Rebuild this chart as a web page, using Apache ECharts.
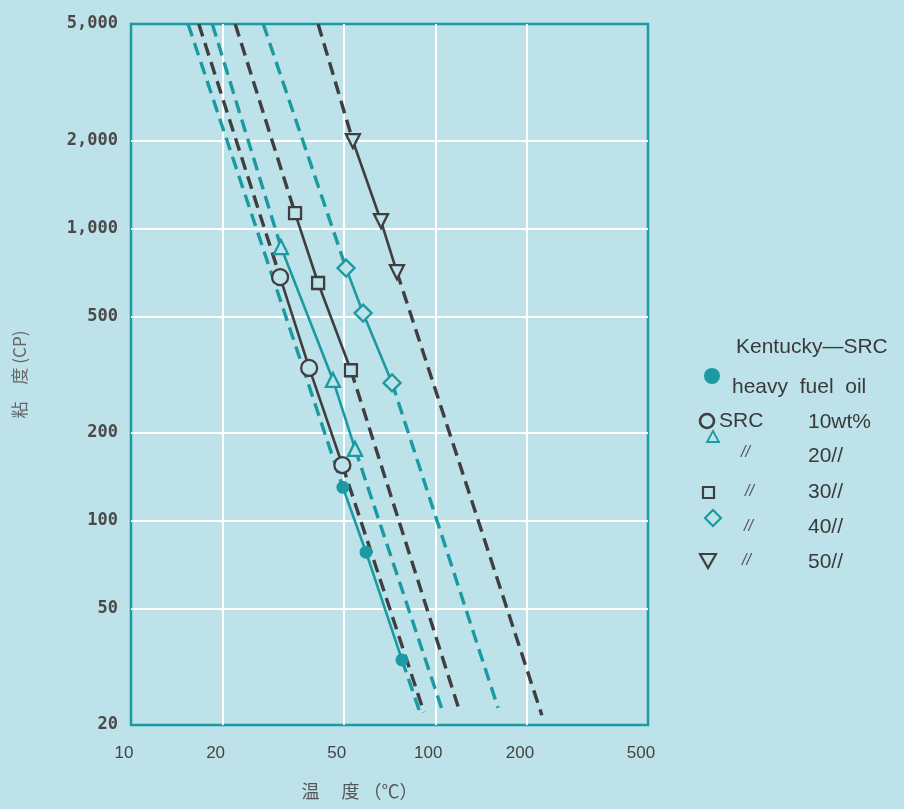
<!DOCTYPE html>
<html>
<head>
<meta charset="utf-8">
<script src="https://cdn.jsdelivr.net/npm/echarts@6/dist/echarts.min.js"></script>
<style>
html,body{margin:0;padding:0;background:#bde2e9;}
#c{width:904px;height:809px;}
</style>
</head>
<body>
<div id="c"></div>
<script>
// ---- data (temperature °C, viscosity cP) ----
const xTicks = [10, 20, 50, 100, 200, 500];
const xGrid = [20, 50, 100, 200];
const yTicks = [20, 50, 100, 200, 500, 1000, 2000, 5000];
const yGrid = [50, 100, 200, 500, 1000, 2000];

const hfoT = [49.7, 59.2, 77.7];
const hfoV = [130, 78, 33.4];
const src10T = [30.9, 38.5, 49.5];
const src10V = [681, 333, 155];
const src20T = [31.1, 46.1, 54.5];
const src20V = [863, 303, 176];
const src30T = [34.6, 41.2, 52.8];
const src30V = [1128, 650, 327];
const src40T = [50.9, 57.9, 72.1];
const src40V = [731, 513, 296];
const src50T = [53.6, 66.3, 74.8];
const src50V = [1989, 1059, 708];

// extrapolated (dashed) ends: [temp, viscosity]
const hfoTop = [15.4, 5000], hfoBottom = [89.0, 22.1];
const src10Top = [16.7, 5000], src10Bottom = [91.8, 22.1];
const src20Top = [18.5, 5000], src20Bottom = [106, 22.1];
const src30Top = [22.0, 5000], src30Bottom = [120.5, 22.1];
const src40Top = [27.2, 5000], src40Bottom = [160.7, 22.9];
const src50Top = [41.2, 5000], src50Bottom = [224, 21.6];

// ---- styling ----
const BG = '#bde2e9';
const TEAL = '#1b9aa2';
const DARK = '#3f3f3f';

const groups = [
  {name:'heavy fuel oil', T:hfoT, V:hfoV, top:hfoTop, bottom:hfoBottom, color:TEAL, symbol:'circle', size:13, filled:true},
  {name:'SRC 10wt%', T:src10T, V:src10V, top:src10Top, bottom:src10Bottom, color:DARK, symbol:'circle', size:16},
  {name:'SRC 20wt%', T:src20T, V:src20V, top:src20Top, bottom:src20Bottom, color:TEAL, symbol:'triangle', size:14},
  {name:'SRC 30wt%', T:src30T, V:src30V, top:src30Top, bottom:src30Bottom, color:DARK, symbol:'rect', size:12},
  {name:'SRC 40wt%', T:src40T, V:src40V, top:src40Top, bottom:src40Bottom, color:TEAL, symbol:'diamond', size:17},
  {name:'SRC 50wt%', T:src50T, V:src50V, top:src50Top, bottom:src50Bottom, color:DARK, symbol:'triangle', size:14, rotate:180}
];

const series = [];
groups.forEach(g => {
  const pts = g.T.map((t, i) => [t, g.V[i]]);
  const dashStyle = {color:g.color, width:3.4, type:[13, 7]};
  series.push({
    type:'line', name:g.name + ' upper', data:[g.top, pts[0]],
    showSymbol:false, symbol:'none', lineStyle:dashStyle, z:2, silent:true
  });
  series.push({
    type:'line', name:g.name + ' lower', data:[pts[pts.length-1], g.bottom],
    showSymbol:false, symbol:'none', lineStyle:dashStyle, z:2, silent:true
  });
  series.push({
    type:'line', name:g.name, data:pts,
    symbol:g.symbol, symbolSize:g.size, symbolRotate:g.rotate || 0,
    lineStyle:{color:g.color, width:2.6},
    itemStyle:{color:g.filled ? g.color : BG, borderColor:g.color, borderWidth:g.filled ? 0 : 2.3},
    z:3
  });
});

const chart = echarts.init(document.getElementById('c'), null, {renderer:'canvas'});

function lt(text, x, y, size) {
  return {type:'text', x:x, y:y, style:{text:text, fill:'#3a3a3a', font:(size || 21) + 'px "Liberation Sans", Arial, sans-serif', verticalAlign:'middle', align:'left'}};
}
function dt(x, y) {
  return {type:'text', x:x, y:y, style:{text:'//', fill:'#555', font:'italic 16px "Liberation Sans", Arial, sans-serif', verticalAlign:'middle', align:'left'}};
}

chart.setOption({
  backgroundColor: BG,
  animation:false,
  grid:{left:131, right:256, top:24, bottom:84, show:true, backgroundColor:BG, borderColor:TEAL, borderWidth:2.5},
  xAxis:{
    type:'log', logBase:10, min:10, max:500,
    name:'温　 度 （℃）', nameLocation:'middle', nameGap:57,
    nameTextStyle:{color:'#555', fontSize:18, fontFamily:'"Noto Sans CJK JP"', padding:[0, 60, 0, 0]},
    axisLine:{show:false},
    axisTick:{show:false, customValues:xGrid},
    axisLabel:{customValues:xTicks, color:'#444', fontSize:17, fontFamily:'"Liberation Sans", Arial', margin:20, padding:[0, 14, 0, 0],
      formatter: v => String(Math.round(v))},
    splitLine:{show:true, lineStyle:{color:'#ffffff', width:2}}
  },
  yAxis:{
    type:'log', logBase:10, min:20, max:5000,
    name:'粘　度 (CP)', nameLocation:'middle', nameGap:103, nameRotate:90,
    nameTextStyle:{color:'#666', fontSize:17, fontFamily:'"Noto Sans CJK JP"'},
    axisLine:{show:false},
    axisTick:{show:false, customValues:yGrid},
    axisLabel:{customValues:yTicks, color:'#4a4a4a', fontSize:17, fontWeight:'bold', fontFamily:'"DejaVu Sans Mono", monospace', margin:13,
      formatter: v => Math.round(v).toLocaleString('en-US')},
    splitLine:{show:true, lineStyle:{color:'#ffffff', width:2}}
  },
  series: series,
  graphic:[
    lt('Kentucky—SRC', 736, 347, 21),
    {type:'circle', shape:{cx:712, cy:376, r:8}, style:{fill:TEAL}},
    lt('heavy  fuel  oil', 732, 387, 21),
    {type:'circle', shape:{cx:707, cy:421, r:7}, style:{fill:'none', stroke:DARK, lineWidth:2.6}},
    lt('SRC', 719, 421),
    lt('10wt%', 808, 422),
    {type:'polygon', shape:{points:[[713,431],[707,442],[719,442]]}, style:{fill:'none', stroke:TEAL, lineWidth:1.8}},
    dt(741, 453),
    lt('20//', 808, 456),
    {type:'rect', shape:{x:703, y:487, width:11, height:11}, style:{fill:'none', stroke:DARK, lineWidth:2.2}},
    dt(745, 492),
    lt('30//', 808, 492),
    {type:'polygon', shape:{points:[[713,510],[721,518],[713,526],[705,518]]}, style:{fill:'none', stroke:TEAL, lineWidth:2.2}},
    dt(744, 527),
    lt('40//', 808, 527),
    {type:'polygon', shape:{points:[[700,554],[716,554],[708,568]]}, style:{fill:'none', stroke:DARK, lineWidth:2.2}},
    dt(742, 561),
    lt('50//', 808, 562)
  ]
});
</script>
</body>
</html>
